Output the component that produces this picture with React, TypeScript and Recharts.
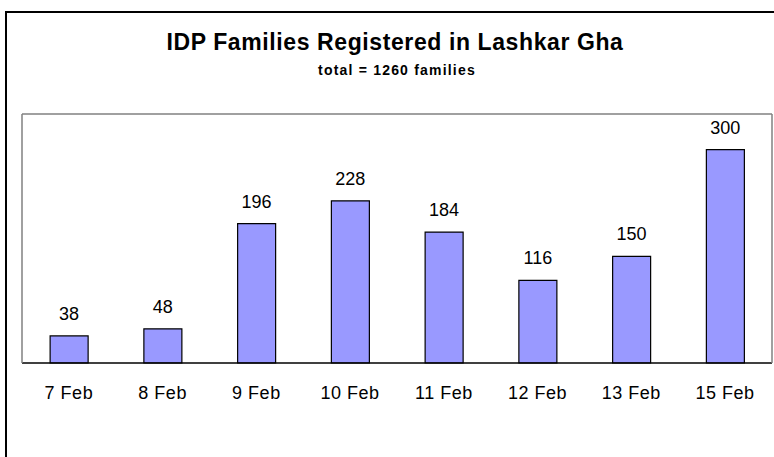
import React from "react";
import { BarChart, Bar, XAxis, YAxis, LabelList } from "recharts";

const categories = ["7 Feb", "8 Feb", "9 Feb", "10 Feb", "11 Feb", "12 Feb", "13 Feb", "15 Feb"];
const families = [38, 48, 196, 228, 184, 116, 150, 300];
const boundaryTicks = [0, 1, 2, 3, 4, 5, 6, 7, 8];
const title = "IDP Families Registered in Lashkar Gha";
const subtitle = "total = 1260 families";

const data = categories.map((c, i) => ({ date: c, value: families[i] }));

const FONT = "'Liberation Sans', Arial, sans-serif";

export default function App() {
  return (
    <div
      style={{
        position: "absolute",
        left: 0,
        top: 0,
        width: 774,
        height: 457,
        overflow: "hidden",
        background: "#ffffff",
        fontFamily: FONT,
      }}
    >
      <div
        style={{
          position: "absolute",
          left: 5,
          top: 11,
          width: 820,
          height: 520,
          border: "2px solid #000",
        }}
      />
      <div
        style={{
          position: "absolute",
          left: 0,
          width: 790,
          top: 31,
          textAlign: "center",
          fontSize: 23,
          lineHeight: "23px",
          fontWeight: "bold",
          letterSpacing: 0.6,
          color: "#000",
        }}
      >
        {title}
      </div>
      <div
        style={{
          position: "absolute",
          left: 0,
          width: 794,
          top: 63,
          textAlign: "center",
          fontSize: 14,
          lineHeight: "14px",
          fontWeight: "bold",
          letterSpacing: 1.2,
          color: "#000",
        }}
      >
        {subtitle}
      </div>
      <div style={{ position: "absolute", left: 0, top: 0 }}>
        <BarChart
          width={774}
          height={457}
          data={data}
          margin={{ top: 113, right: 1, left: 21, bottom: 63 }}
          barCategoryGap="30%"
        >
          <XAxis
            xAxisId="b_cat"
            dataKey="date"
            orientation="bottom"
            height={30}
            axisLine={false}
            tickLine={false}
            tickSize={6}
            tickMargin={16}
            interval={0}
            tick={{ fill: "#000", fontSize: 18, fontFamily: FONT, letterSpacing: 0.5 }}
          />
          <XAxis
            xAxisId="a_ticks"
            type="number"
            domain={[0, 8]}
            ticks={boundaryTicks}
            orientation="bottom"
            height={1}
            tick={false}
            tickSize={7}
            tickLine={{ stroke: "#000", strokeWidth: 1 }}
            axisLine={{ stroke: "#000", strokeWidth: 1.5 }}
            allowDataOverflow
          />
          <XAxis
            xAxisId="top"
            orientation="top"
            height={1}
            tick={false}
            tickLine={false}
            axisLine={{ stroke: "#808080", strokeWidth: 1.5 }}
          />
          <YAxis
            yAxisId="left"
            domain={[0, 350]}
            width={1}
            tick={false}
            tickLine={false}
            axisLine={{ stroke: "#808080", strokeWidth: 1.5 }}
          />
          <YAxis
            yAxisId="right"
            orientation="right"
            domain={[0, 350]}
            width={1}
            tick={false}
            tickLine={false}
            axisLine={{ stroke: "#808080", strokeWidth: 1.5 }}
          />
          <Bar
            dataKey="value"
            xAxisId="b_cat"
            yAxisId="left"
            fill="#9999FF"
            stroke="#000"
            strokeWidth={1.2}
            isAnimationActive={false}
          >
            <LabelList
              dataKey="value"
              position="top"
              offset={16}
              fill="#000"
              fontSize={18}
              fontFamily={FONT}
            />
          </Bar>
        </BarChart>
      </div>
    </div>
  );
}
